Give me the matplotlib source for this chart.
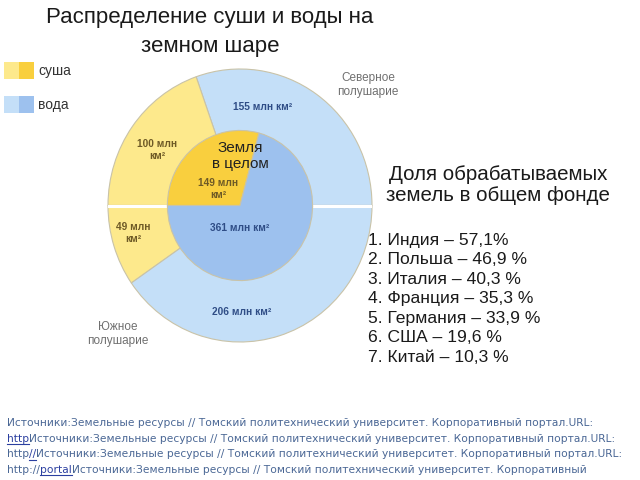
import matplotlib
matplotlib.use('Agg')
import matplotlib.pyplot as plt

plt.rcParams['font.family'] = ['Liberation Sans', 'DejaVu Sans']

# outer ring: northern hemisphere (water, land), southern hemisphere (land, water), mln km2
outer_labels = ['155 млн км²', '100 млн\nкм²', '49 млн\nкм²', '206 млн км²']
outer_values = [155, 100, 49, 206]
# inner pie: Earth as a whole
inner_labels = ['149 млн\nкм²', '361 млн км²']
inner_values = [149, 361]

countries = ['Индия', 'Польша', 'Италия', 'Франция', 'Германия', 'США', 'Китай']
shares = ['57,1%', '46,9 %', '40,3 %', '35,3 %', '33,9 %', '19,6 %', '10,3 %']

land_light, land_dark = '#FDE98C', '#F9CF3E'
water_light, water_dark = '#C4DFF8', '#9DC1EE'
edge = '#C9C3A8'

fig = plt.figure(figsize=(6.4, 4.8), dpi=100)
fig.patch.set_facecolor('white')

W, H = 640, 480

# pie axes placed in pixel region of the picture
px0, px1, py0, py1 = 108, 372, 69, 342
pax = fig.add_axes([px0 / W, 1 - py1 / H, (px1 - px0) / W, (py1 - py0) / H])
pax.pie(outer_values, radius=1.0, startangle=0, counterclock=True,
        colors=[water_light, land_light, land_light, water_light],
        wedgeprops=dict(edgecolor=edge, linewidth=0.8))
pax.plot([-1.02, 1.02], [0, 0], color='white', lw=2.2, zorder=5)
inner_start = 180 - 360 * inner_values[0] / sum(inner_values)
wedges, _ = pax.pie(inner_values, radius=0.55, startangle=inner_start, counterclock=True,
                    colors=[land_dark, water_dark],
                    wedgeprops=dict(edgecolor=edge, linewidth=0.8))
for w in wedges:
    w.set_zorder(6)
pax.set_aspect('auto')
pax.set_xlim(-1, 1)
pax.set_ylim(-1, 1)
pax.axis('off')

# overlay axes in pixel coordinates for text
ax = fig.add_axes([0, 0, 1, 1], facecolor='none')
ax.set_xlim(0, W)
ax.set_ylim(H, 0)
ax.axis('off')

ax.text(210, 32, 'Распределение суши и воды на\nземном шаре', ha='center', va='center',
        fontsize=16, color='#1a1a1a', linespacing=1.45)

# legend swatches
for y, (c1, c2), lab in [(62, (land_light, land_dark), 'суша'), (96, (water_light, water_dark), 'вода')]:
    ax.add_patch(plt.Rectangle((4, y), 15, 17, facecolor=c1, edgecolor='none'))
    ax.add_patch(plt.Rectangle((19, y), 15, 17, facecolor=c2, edgecolor='none'))
    ax.text(38, y + 9, lab, ha='left', va='center', fontsize=10, color='#333333')

ax.text(368, 85, 'Северное\nполушарие', ha='center', va='center', fontsize=8.5,
        color='#707070', linespacing=1.25)
ax.text(118, 334, 'Южное\nполушарие', ha='center', va='center', fontsize=8.5,
        color='#707070', linespacing=1.25)

blue_txt = '#2F4D86'
brown_txt = '#6E5A26'
ring_pos = [(263, 107, blue_txt), (157, 150, brown_txt), (133, 233, brown_txt), (242, 312, blue_txt)]
for lab, (x, y, c) in zip(outer_labels, ring_pos):
    ax.text(x, y, lab, ha='center', va='center', fontsize=7.3, fontweight='bold',
            color=c, linespacing=1.3, zorder=10)
ax.text(240, 156, 'Земля\nв целом', ha='center', va='center', fontsize=11,
        color='#222222', linespacing=1.12, zorder=10)
inner_pos = [(218, 189, brown_txt), (240, 228, blue_txt)]
for lab, (x, y, c) in zip(inner_labels, inner_pos):
    ax.text(x, y, lab, ha='center', va='center', fontsize=7.3, fontweight='bold',
            color=c, linespacing=1.3, zorder=10)

ax.text(498, 185, 'Доля обрабатываемых\nземель в общем фонде', ha='center', va='center',
        fontsize=14.8, color='#1a1a1a', linespacing=1.15)
for i, (cn, sh) in enumerate(zip(countries, shares)):
    ax.text(368, 240 + i * 19.5, f'{i + 1}. {cn} – {sh}', ha='left', va='center',
            fontsize=12.6, color='#1a1a1a')

# source lines, with underlined link fragments
src = 'Источники:Земельные ресурсы // Томский политехнический университет. Корпоративный портал.URL:'
src_short = 'Источники:Земельные ресурсы // Томский политехнический университет. Корпоративный'
source_lines = [
    [(src, False)],
    [('http', True), (src, False)],
    [('http', False), ('//', True), (src, False)],
    [('http://', False), ('portal', True), (src_short, False)],
]
src_color = '#4A6795'
link_color = '#2B3FA0'
fig.canvas.draw()
renderer = fig.canvas.get_renderer()
inv = ax.transData.inverted()
for i, parts in enumerate(source_lines):
    x = 7
    y = 423 + i * 15.6
    for txt, under in parts:
        t = ax.text(x, y, txt, ha='left', va='center', fontsize=7.7,
                    family='DejaVu Sans', color=link_color if under else src_color)
        bb = t.get_window_extent(renderer)
        (x0, _), (x1, _) = inv.transform([(bb.x0, bb.y0), (bb.x1, bb.y1)])
        if under:
            ax.plot([x0, x1], [y + 5.5, y + 5.5], color=link_color, lw=0.8)
        x = x1

fig.savefig('out.png', dpi=100)
